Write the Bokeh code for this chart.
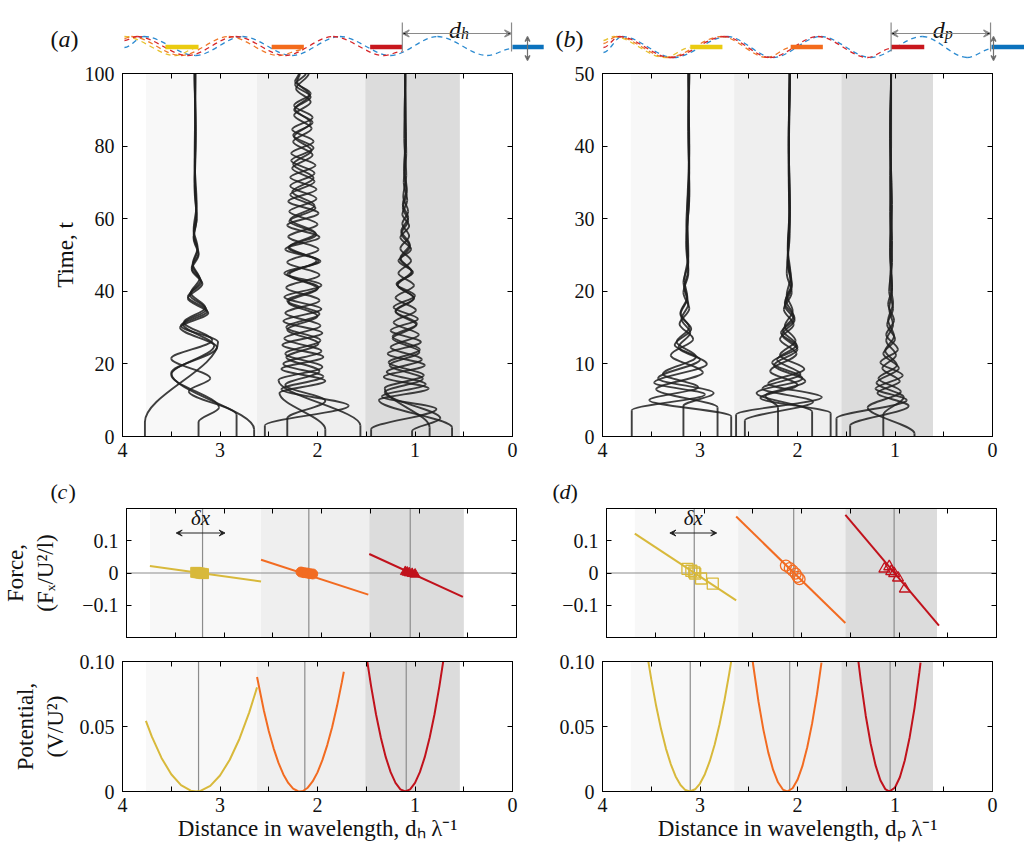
from bokeh.plotting import figure
from bokeh.layouts import column, row
from bokeh.models import (Range1d, LinearAxis, FixedTicker, Label, Arrow, VeeHead,
                          ColumnDataSource, CustomJSTickFormatter)
from bokeh.embed import file_html
from bokeh.resources import INLINE

# ---------------------------------------------------------------- data
X_TICKS = [4, 3, 2, 1, 0]
X_MINOR_TICKS = [3.5, 2.5, 1.5, 0.5]
T_TICKS_A = [0, 20, 40, 60, 80, 100]
T_TICKS_B = [0, 10, 20, 30, 40, 50]
F_TICKS = [-0.1, 0, 0.1]
V_TICKS = [0, 0.05, 0.10]

BANDS_A_FROM = [3.76, 2.62, 1.51]
BANDS_A_TO = [2.62, 1.51, 0.54]
BANDS_B_FROM = [3.71, 2.65, 1.55]
BANDS_B_TO = [2.65, 1.55, 0.61]

EQ_A = [3.22, 2.13, 1.09]
EQ_B = [3.10, 2.08, 1.05]

# trajectories (a): turning points (distance, time)
A1_1 = [(3.77, 0), (3.77, 4), (3.02, 26), (3.40, 30.5), (3.13, 34.5), (3.33, 38.5), (3.19, 42.5), (3.29, 46.5), (3.22, 50.5), (3.27, 55), (3.24, 60), (3.26, 68), (3.25, 80), (3.26, 100)]
A1_2 = [(3.22, 0), (3.22, 4), (3.01, 8), (3.50, 17), (3.06, 25), (3.38, 31), (3.14, 35), (3.31, 39), (3.20, 43), (3.28, 47), (3.23, 51.5), (3.27, 56), (3.24, 62), (3.26, 72), (3.25, 86), (3.26, 100)]
A1_3 = [(2.83, 0), (2.83, 6), (3.32, 12.5), (3.10, 16), (3.50, 21.5), (3.08, 26.5), (3.37, 31.5), (3.15, 35.5), (3.30, 39.5), (3.21, 43.5), (3.28, 47.5), (3.23, 52), (3.27, 57), (3.24, 64), (3.26, 76), (3.25, 100)]
A1_4 = [(2.65, 0), (2.65, 2), (3.50, 17.5), (3.03, 24.5), (3.41, 30), (3.12, 34), (3.33, 38), (3.18, 42), (3.29, 46), (3.22, 50), (3.27, 54.5), (3.24, 60), (3.26, 70), (3.25, 84), (3.26, 100)]

A2_1 = [(2.54, 0), (2.54, 3), (1.68, 8.5), (2.37, 13), (1.94, 16.5), (2.35, 20), (1.96, 23.5), (2.34, 27), (1.97, 30.5), (2.33, 34), (1.98, 37.5), (2.32, 41), (1.98, 44.5), (2.31, 48), (1.99, 51.5), (2.30, 55), (2.00, 58.5), (2.29, 62), (2.01, 65.5), (2.28, 69), (2.03, 72.5), (2.27, 76), (2.04, 79.5), (2.25, 83), (2.05, 86.5), (2.24, 90), (2.07, 93.5), (2.23, 97), (2.12, 100)]
A2_2 = [(2.31, 0), (2.31, 5), (1.92, 9.8), (2.33, 14.2), (1.98, 18.0), (2.32, 21.8), (1.99, 25.6), (2.31, 29.4), (2.00, 33.2), (2.30, 37.0), (2.00, 40.8), (2.29, 44.6), (2.01, 48.4), (2.29, 52.2), (2.02, 56.0), (2.28, 59.8), (2.03, 63.6), (2.26, 67.4), (2.04, 71.2), (2.25, 75.0), (2.06, 78.8), (2.24, 82.6), (2.07, 86.4), (2.23, 90.2), (2.08, 94.0), (2.21, 97.8), (2.18, 100)]
A2_3 = [(1.92, 0), (1.92, 2), (2.39, 12.0), (1.92, 15.3), (2.37, 18.6), (1.94, 21.9), (2.36, 25.2), (1.95, 28.5), (2.35, 31.8), (1.96, 35.1), (2.34, 38.4), (1.96, 41.7), (2.34, 45.0), (1.97, 48.3), (2.33, 51.6), (1.98, 54.9), (2.31, 58.2), (1.99, 61.5), (2.30, 64.8), (2.01, 68.1), (2.28, 71.4), (2.02, 74.7), (2.27, 78.0), (2.04, 81.3), (2.26, 84.6), (2.05, 87.9), (2.24, 91.2), (2.07, 94.5), (2.23, 97.8), (2.19, 100)]
A2_4 = [(1.56, 0), (1.56, 3), (2.40, 15.5), (1.95, 19.15), (2.33, 22.8), (1.97, 26.45), (2.32, 30.1), (1.98, 33.75), (2.31, 37.4), (1.99, 41.05), (2.31, 44.7), (1.99, 48.35), (2.30, 52.0), (2.01, 55.65), (2.29, 59.3), (2.02, 62.95), (2.28, 66.6), (2.03, 70.25), (2.26, 73.9), (2.05, 77.55), (2.25, 81.2), (2.06, 84.85), (2.24, 88.5), (2.07, 92.15), (2.22, 95.8), (2.09, 100)]

A3_1 = [(1.45, 0), (1.45, 2), (0.78, 7.6), (1.34, 11), (0.89, 14.4), (1.29, 17.8), (0.93, 21.2), (1.25, 24.6), (0.96, 28), (1.22, 31.4), (0.99, 34.8), (1.20, 38.2), (1.01, 41.6), (1.17, 45), (1.04, 48.4), (1.15, 51.8), (1.06, 55.2), (1.13, 58.6), (1.07, 62), (1.12, 66), (1.09, 72), (1.11, 82), (1.10, 100)]
A3_2 = [(1.03, 0), (1.03, 1.5), (0.74, 5.0), (1.31, 12.2), (0.92, 15.9), (1.26, 19.6), (0.955, 23.3), (1.23, 27.0), (0.985, 30.7), (1.20, 34.4), (1.01, 38.1), (1.18, 41.8), (1.035, 45.5), (1.15, 49.2), (1.055, 52.9), (1.14, 56.6), (1.07, 60.3), (1.125, 64), (1.085, 68), (1.11, 74), (1.095, 84), (1.10, 100)]
A3_3 = [(0.62, 0), (0.62, 2.5), (1.37, 10.0), (0.86, 13.2), (1.32, 16.4), (0.90, 19.6), (1.28, 22.8), (0.94, 26.0), (1.25, 29.2), (0.97, 32.4), (1.22, 35.6), (1.00, 38.8), (1.19, 42.0), (1.02, 45.2), (1.17, 48.4), (1.04, 51.6), (1.15, 54.8), (1.06, 58.0), (1.13, 61.2), (1.08, 65), (1.115, 70), (1.09, 78), (1.105, 90), (1.10, 100)]
A3_4 = [(0.85, 0), (0.85, 2.5), (1.31, 13.3), (0.91, 16.85), (1.27, 20.4), (0.95, 23.95), (1.23, 27.5), (0.98, 31.05), (1.20, 34.6), (1.01, 38.15), (1.18, 41.7), (1.03, 45.25), (1.15, 48.8), (1.05, 52.35), (1.14, 55.9), (1.07, 59.45), (1.125, 63), (1.085, 67), (1.11, 73), (1.095, 82), (1.10, 100)]

# trajectories (b)
B1_1 = [(3.70, 0), (3.70, 3.6), (2.95, 5.8), (3.47, 7.4), (2.93, 10.0), (3.22, 12.3), (3.10, 14.3), (3.19, 16.2), (3.12, 18.2), (3.16, 20.5), (3.12, 23), (3.14, 27), (3.11, 33), (3.12, 42), (3.11, 50)]
B1_2 = [(2.68, 0), (2.68, 2.8), (3.52, 5.0), (3.02, 6.8), (3.38, 8.6), (3.04, 11.0), (3.24, 13.0), (3.11, 15.0), (3.20, 17.0), (3.13, 19.2), (3.16, 21.5), (3.12, 25), (3.13, 31), (3.11, 40), (3.12, 50)]
B1_3 = [(3.17, 0), (3.17, 4.2), (2.86, 6.0), (3.43, 8.0), (3.00, 10.6), (3.26, 12.6), (3.09, 14.8), (3.20, 16.8), (3.13, 19), (3.17, 21.2), (3.12, 24), (3.14, 29), (3.11, 37), (3.12, 50)]
B1_4 = [(2.82, 0), (2.82, 4.0), (3.45, 6.5), (2.97, 8.8), (3.30, 11.2), (3.07, 13.4), (3.21, 15.5), (3.11, 17.6), (3.17, 19.8), (3.12, 22.5), (3.14, 26), (3.11, 34), (3.12, 44), (3.11, 50)]

B2_1 = [(2.63, 0), (2.63, 3.0), (1.75, 5.4), (2.30, 7.3), (1.93, 9.3), (2.18, 11.2), (2.02, 13.2), (2.13, 15.2), (2.05, 17.3), (2.11, 19.5), (2.07, 22), (2.10, 26), (2.08, 32), (2.09, 41), (2.08, 50)]
B2_2 = [(2.54, 0), (2.54, 2.2), (1.84, 4.8), (2.36, 6.6), (1.97, 8.6), (2.21, 10.6), (2.01, 12.6), (2.15, 14.6), (2.04, 16.6), (2.12, 18.8), (2.06, 21), (2.10, 25), (2.08, 31), (2.09, 40), (2.08, 50)]
B2_3 = [(2.20, 0), (2.20, 4.0), (2.33, 5.6), (1.92, 7.6), (2.24, 9.8), (2.00, 12), (2.16, 14), (2.03, 16), (2.13, 18), (2.06, 20.5), (2.10, 24), (2.08, 30), (2.09, 38), (2.08, 50)]
B2_4 = [(1.85, 0), (1.85, 3.4), (2.42, 6.0), (1.95, 8.0), (2.26, 10.2), (2.00, 12.3), (2.17, 14.3), (2.03, 16.3), (2.13, 18.4), (2.06, 20.8), (2.10, 24), (2.08, 31), (2.09, 42), (2.08, 50)]
B2_5 = [(1.66, 0), (1.66, 3.2), (2.38, 5.3), (2.00, 7.1), (2.28, 9.0), (2.01, 11.4), (2.18, 13.4), (2.04, 15.4), (2.14, 17.5), (2.06, 19.8), (2.11, 22.5), (2.08, 28), (2.09, 36), (2.08, 50)]

B3_1 = [(1.60, 0), (1.60, 2.5), (0.88, 5.0), (1.20, 6.6), (0.92, 8.4), (1.15, 10.2), (0.97, 12.0), (1.09, 14.0), (1.01, 16.0), (1.07, 18.2), (1.03, 20.5), (1.05, 25), (1.03, 32), (1.05, 41), (1.04, 50)]
B3_2 = [(1.46, 0), (1.46, 1.5), (0.86, 4.2), (1.18, 6.0), (0.95, 7.6), (1.13, 9.4), (0.99, 11.2), (1.09, 13.2), (1.02, 15.4), (1.06, 17.6), (1.03, 20), (1.05, 26), (1.04, 35), (1.05, 44), (1.04, 50)]
B3_3 = [(1.12, 0), (1.12, 3.0), (0.91, 5.4), (1.19, 7.4), (0.96, 9.4), (1.12, 11.4), (1.00, 13.4), (1.08, 15.4), (1.02, 17.6), (1.06, 20), (1.03, 24), (1.05, 31), (1.04, 40), (1.04, 50)]
B3_4 = [(0.80, 0), (0.80, 0.4), (1.28, 4.0), (0.94, 6.2), (1.17, 8.0), (0.98, 9.8), (1.10, 11.8), (1.01, 13.8), (1.07, 16), (1.02, 18.4), (1.05, 21), (1.03, 27), (1.05, 36), (1.04, 50)]

# force lines
FA_YEL_X = [3.76, 2.62]; FA_YEL_F = [0.022, -0.026]
FA_ORG_X = [2.62, 1.52]; FA_ORG_F = [0.041, -0.067]
FA_RED_X = [1.51, 0.55]; FA_RED_F = [0.059, -0.074]
FB_YEL_X = [3.71, 2.67]; FB_YEL_F = [0.122, -0.085]
FB_ORG_X = [2.67, 1.55]; FB_ORG_F = [0.175, -0.155]
FB_RED_X = [1.55, 0.59]; FB_RED_F = [0.180, -0.163]

# force samples
SQ_A_X = [3.29, 3.27, 3.25, 3.23, 3.21]; SQ_A_F = [0.002, 0.001, 0.0, -0.001, -0.002]
CI_A_X = [2.21, 2.18, 2.15, 2.12, 2.09]; CI_A_F = [0.003, 0.001, 0.0, -0.002, -0.003]
TR_A_X = [1.14, 1.12, 1.10, 1.07, 1.04]; TR_A_F = [0.004, 0.002, 0.0, -0.002, -0.004]
SQ_B_X = [3.17, 3.13, 3.10, 3.09, 3.03, 2.91]; SQ_B_F = [0.013, 0.007, 0.002, -0.002, -0.017, -0.033]
CI_B_X = [2.16, 2.12, 2.09, 2.06, 2.04, 2.02]; CI_B_F = [0.023, 0.015, 0.007, -0.002, -0.012, -0.019]
TR_B_X = [1.15, 1.10, 1.08, 1.05, 1.01, 0.94]; TR_B_F = [0.013, 0.020, 0.005, -0.001, -0.015, -0.049]

# potential curves
VA_YEL_X = [3.76, 3.70, 3.60, 3.50, 3.40, 3.30, 3.245, 3.20, 3.10, 3.00, 2.90, 2.80, 2.70, 2.62]
VA_YEL_V = [0.0544, 0.0424, 0.0258, 0.0133, 0.0049, 0.0006, 0.0, 0.0004, 0.0043, 0.0123, 0.0244, 0.0406, 0.0609, 0.0801]
VA_ORG_X = [2.62, 2.55, 2.50, 2.45, 2.40, 2.35, 2.30, 2.25, 2.20, 2.18, 2.15, 2.10, 2.05, 2.00, 1.95, 1.90, 1.85, 1.80, 1.75, 1.73]
VA_ORG_V = [0.0881, 0.0623, 0.0466, 0.0332, 0.0220, 0.0131, 0.0066, 0.0022, 0.0002, 0.0, 0.0004, 0.0029, 0.0077, 0.0147, 0.0241, 0.0357, 0.0495, 0.0657, 0.0841, 0.0921]
VA_RED_X = [1.49, 1.45, 1.40, 1.35, 1.30, 1.25, 1.20, 1.15, 1.10, 1.05, 1.00, 0.95, 0.90, 0.85, 0.80, 0.75, 0.71]
VA_RED_V = [0.1004, 0.0809, 0.0594, 0.0413, 0.0264, 0.0149, 0.0066, 0.0017, 0.0, 0.0017, 0.0066, 0.0149, 0.0264, 0.0413, 0.0594, 0.0809, 0.1004]
VB_YEL_X = [3.53, 3.50, 3.45, 3.40, 3.35, 3.30, 3.25, 3.20, 3.15, 3.105, 3.05, 3.00, 2.95, 2.90, 2.85, 2.80, 2.75, 2.70, 2.68]
VB_YEL_V = [0.1001, 0.0864, 0.0659, 0.0482, 0.0332, 0.0211, 0.0116, 0.0050, 0.0011, 0.0, 0.0017, 0.0061, 0.0133, 0.0233, 0.0360, 0.0515, 0.0698, 0.0909, 0.1001]
VB_ORG_X = [2.46, 2.40, 2.35, 2.30, 2.25, 2.20, 2.15, 2.106, 2.05, 2.00, 1.95, 1.90, 1.85, 1.80, 1.754]
VB_ORG_V = [0.1002, 0.0691, 0.0476, 0.0301, 0.0166, 0.0071, 0.0015, 0.0, 0.0025, 0.0090, 0.0195, 0.0340, 0.0524, 0.0749, 0.0991]
VB_RED_X = [1.378, 1.35, 1.30, 1.25, 1.20, 1.15, 1.10, 1.056, 1.00, 0.95, 0.90, 0.85, 0.80, 0.75, 0.738]
VB_RED_V = [0.1016, 0.0847, 0.0583, 0.0369, 0.0203, 0.0087, 0.0019, 0.0, 0.0031, 0.0110, 0.0238, 0.0416, 0.0642, 0.0918, 0.0991]

# schematic waves: extremes (distance, height in px from top)
WAVE_A_BLUE = [(3.98, 47), (3.78, 36), (3.25, 55), (2.77, 36), (2.26, 55), (1.77, 36), (1.25, 55), (0.77, 36), (0.26, 55), (0.00, 48)]
WAVE_A_RED = [(3.98, 40), (3.85, 36), (3.33, 55), (2.84, 36), (2.33, 55), (1.84, 36), (1.32, 55), (1.13, 51)]
WAVE_A_ORANGE = [(3.98, 38), (3.91, 36), (3.40, 55), (2.91, 36), (2.40, 55), (2.14, 49)]
WAVE_A_YELLOW = [(3.98, 36), (3.46, 55), (3.22, 47)]
WAVE_B_BLUE = [(3.99, 52), (3.80, 36), (3.27, 57), (2.72, 36), (2.25, 57), (1.76, 36), (1.25, 57), (0.72, 36), (0.26, 57), (0.00, 48)]
WAVE_B_RED = [(3.99, 47), (3.83, 36), (3.30, 57), (2.75, 36), (2.28, 57), (1.79, 36), (1.28, 57), (1.04, 48)]
WAVE_B_ORANGE = [(3.99, 43), (3.86, 36), (3.33, 57), (2.78, 36), (2.31, 57), (2.07, 47)]
WAVE_B_YELLOW = [(3.99, 40), (3.89, 36), (3.36, 57), (3.10, 47)]
BARS_A_FROM = [3.56, 2.47, 1.46, 0.00]
BARS_A_TO = [3.22, 2.14, 1.13, -0.32]
BARS_B_FROM = [3.10, 2.07, 1.04, 0.01]
BARS_B_TO = [2.77, 1.74, 0.70, -0.33]
DIM_A = [1.13, 0.01]
DIM_B = [1.04, 0.02]

# ---------------------------------------------------------------- style
FONT = "Liberation Serif"
TICK_SIZE = "20px"
LABEL_SIZE = "23px"
GREYS = ["#f8f8f8", "#efefef", "#dcdcdc"]
YEL, ORG, RED = "#d8b93b", "#f26b21", "#c1121c"
BAR_COLS = ["#eacb10", "#f36b1c", "#c8171d", "#0b72bd"]
WAVE_COLS = {"blue": "#2b8ad0", "red": "#d6262a", "orange": "#f07a2a", "yellow": "#e6c22e"}
LINE_GREY = "#8c8c8c"
TRAJ = "#1e1e1e"
PX = 97.5            # px per wavelength
SPLIT = 550          # page x where left column ends
PAGE_W = 1024


def bez_vertical(paths):
    d = dict(x0=[], y0=[], x1=[], y1=[], cx0=[], cy0=[], cx1=[], cy1=[])
    for path in paths:
        for (xa, ya), (xb, yb) in zip(path[:-1], path[1:]):
            k = (yb - ya) / 3.0
            d["x0"].append(xa); d["y0"].append(ya); d["x1"].append(xb); d["y1"].append(yb)
            d["cx0"].append(xa); d["cy0"].append(ya + k)
            d["cx1"].append(xb); d["cy1"].append(yb - k)
    return ColumnDataSource(d)


def bez_horizontal(path):
    d = dict(x0=[], y0=[], x1=[], y1=[], cx0=[], cy0=[], cx1=[], cy1=[])
    for (xa, ya), (xb, yb) in zip(path[:-1], path[1:]):
        k = (xb - xa) / 3.0
        d["x0"].append(xa); d["y0"].append(ya); d["x1"].append(xb); d["y1"].append(yb)
        d["cx0"].append(xa + k); d["cy0"].append(ya)
        d["cx1"].append(xb - k); d["cy1"].append(yb)
    return ColumnDataSource(d)


def style_axis(ax, labels, standoff):
    ax.axis_line_color = "black"
    ax.axis_line_width = 1
    ax.major_tick_in = 5
    ax.major_tick_out = 0
    ax.minor_tick_in = 5
    ax.minor_tick_out = 0
    ax.major_tick_line_color = "black"
    ax.minor_tick_line_color = "black"
    ax.major_label_text_font = FONT
    ax.major_label_text_color = "#111111"
    ax.axis_label_text_font = FONT
    ax.axis_label_text_font_size = LABEL_SIZE
    ax.axis_label_text_font_style = "normal"
    ax.axis_label_text_color = "#111111"
    if labels:
        ax.major_label_text_font_size = TICK_SIZE
        ax.major_label_standoff = standoff
    else:
        ax.major_label_text_font_size = "0px"
        ax.major_label_standoff = 0
        ax.formatter = CustomJSTickFormatter(code="return '';")


def make_fig(fh, bl, br, bt, bb, yr, yticks, yfmt, xlabels, xlabel=None,
             ylabel=None, ylabel_standoff=5):
    p = figure(frame_width=390, frame_height=fh, x_range=Range1d(4, 0), y_range=yr,
               x_axis_type=None, y_axis_type=None, toolbar_location=None,
               output_backend="svg", min_border_left=bl, min_border_right=br,
               min_border_top=bt, min_border_bottom=bb)
    p.outline_line_color = "black"
    p.background_fill_color = "white"
    p.border_fill_color = "white"
    for loc in ("below", "above"):
        ax = LinearAxis(ticker=FixedTicker(ticks=X_TICKS, minor_ticks=X_MINOR_TICKS))
        show = (loc == "below" and xlabels)
        style_axis(ax, show, 6)
        if show:
            ax.formatter = CustomJSTickFormatter(code="return tick.toFixed(0);")
        if loc == "below" and xlabel:
            ax.axis_label = xlabel
            ax.axis_label_standoff = 1
        p.add_layout(ax, loc)
    for loc in ("left", "right"):
        ax = LinearAxis(ticker=FixedTicker(ticks=yticks))
        show = (loc == "left")
        style_axis(ax, show, 8)
        if show:
            ax.formatter = CustomJSTickFormatter(code=yfmt)
        if loc == "left" and ylabel:
            ax.axis_label = ylabel
            ax.axis_label_standoff = ylabel_standoff
        p.add_layout(ax, loc)
    return p


def panel_label(p, x, y, letter, size="24px", offs=(0, 8, 20)):
    for txt, off, style in zip(("(", letter, ")"), offs, ("normal", "italic", "normal")):
        p.add_layout(Label(x=x, y=y, x_offset=off, text=txt, text_font=FONT,
                           text_font_size=size, text_font_style=style,
                           text_baseline="middle", text_align="left", text_color="#111111"))


INT_FMT = "return tick.toFixed(0);"
F_FMT = "if (Math.abs(tick) < 1e-9) return '0'; return (tick < 0 ? '\u2212' : '') + Math.abs(tick).toFixed(1);"
V_FMT = "if (Math.abs(tick) < 1e-9) return '0'; return tick.toFixed(2);"

BL_L, BR_L = 122, SPLIT - 512
BL_R, BR_R = 602 - SPLIT, PAGE_W - 992


# ---------------------------------------------------------------- schematics
def schematic(left_page, right_page, frame_left_page, waves, bars_from, bars_to,
              dim, sub, letter, label_page_x, heave_page_x):
    w = right_page - left_page
    x0 = 4 + (frame_left_page - left_page) / PX
    x1 = 4 - (right_page - frame_left_page) / PX
    p = figure(width=w, height=61, x_range=Range1d(x0, x1), y_range=Range1d(61, 0),
               x_axis_type=None, y_axis_type=None, toolbar_location=None,
               output_backend="svg", min_border=0)
    p.outline_line_color = None
    p.background_fill_color = "white"
    p.border_fill_color = "white"
    for name, path in waves:
        p.bezier(source=bez_horizontal(path), x0="x0", y0="y0", x1="x1", y1="y1",
                 cx0="cx0", cy0="cy0", cx1="cx1", cy1="cy1",
                 line_color=WAVE_COLS[name], line_width=1.3, line_dash="5 4")
    p.hbar(y=[46.5] * 4, left=bars_from, right=bars_to, height=4.5,
           fill_color=BAR_COLS, line_color=None)
    p.segment(x0=dim, y0=[22, 22], x1=dim, y1=[51, 51], line_color="#8a8a8a", line_width=1.2)
    p.add_layout(Arrow(x_start=dim[0], y_start=33, x_end=dim[1], y_end=33,
                       line_color="#8a8a8a", line_width=1.2,
                       start=VeeHead(size=7, line_color="#8a8a8a", line_width=1.2),
                       end=VeeHead(size=7, line_color="#8a8a8a", line_width=1.2)))
    mid = (dim[0] + dim[1]) / 2
    p.text(x=[mid], y=[29], text=["d"], text_font=FONT, text_font_size="24px",
           text_font_style="italic", text_align="right", text_baseline="alphabetic",
           text_color="#111111", x_offset=4)
    p.text(x=[mid], y=[33], text=[sub], text_font=FONT, text_font_size="16px",
           text_font_style="italic", text_align="left", text_baseline="alphabetic",
           text_color="#111111", x_offset=4)
    hx = 4 - (heave_page_x - frame_left_page) / PX
    p.add_layout(Arrow(x_start=hx, y_start=36, x_end=hx, y_end=60,
                       line_color="#707070", line_width=1.2,
                       start=VeeHead(size=5, line_color="#707070", line_width=1.2),
                       end=VeeHead(size=5, line_color="#707070", line_width=1.2)))
    panel_label(p, 4 + (frame_left_page - label_page_x) / PX, 38, letter)
    return p


def label_strip(left_page, right_page, letter, label_page_x, h, y_mid):
    w = right_page - left_page
    p = figure(width=w, height=h, x_range=Range1d(left_page, right_page), y_range=Range1d(h, 0),
               x_axis_type=None, y_axis_type=None, toolbar_location=None,
               output_backend="svg", min_border=0)
    p.outline_line_color = None
    p.background_fill_color = "white"
    p.border_fill_color = "white"
    panel_label(p, label_page_x, y_mid, letter, size="22px", offs=(0, 7, 18))
    return p


sa = schematic(0, SPLIT, 122,
               [("blue", WAVE_A_BLUE), ("yellow", WAVE_A_YELLOW), ("orange", WAVE_A_ORANGE), ("red", WAVE_A_RED)],
               BARS_A_FROM, BARS_A_TO, DIM_A, "h", "a", 50, 527)
sb = schematic(SPLIT, PAGE_W, 602,
               [("blue", WAVE_B_BLUE), ("yellow", WAVE_B_YELLOW), ("orange", WAVE_B_ORANGE), ("red", WAVE_B_RED)],
               BARS_B_FROM, BARS_B_TO, DIM_B, "p", "b", 555, 993)


# ---------------------------------------------------------------- trajectories
def traj_panel(bl, br, bands_from, bands_to, ttop, tticks, paths, ylabel):
    p = make_fig(363, bl, br, 12, 36, Range1d(0, ttop), tticks, INT_FMT, True,
                 ylabel=ylabel, ylabel_standoff=4)
    p.quad(left=bands_from, right=bands_to, bottom=0, top=ttop, fill_color=GREYS, line_color=None)
    p.bezier(source=bez_vertical(paths), x0="x0", y0="y0", x1="x1", y1="y1",
             cx0="cx0", cy0="cy0", cx1="cx1", cy1="cy1", line_color=TRAJ, line_width=1.9,
             line_alpha=0.85)
    return p


pa = traj_panel(BL_L, BR_L, BANDS_A_FROM, BANDS_A_TO, 100, T_TICKS_A,
                [A1_1, A1_2, A1_3, A1_4, A2_1, A2_2, A2_3, A2_4, A3_1, A3_2, A3_3, A3_4],
                "Time, t")
pb = traj_panel(BL_R, BR_R, BANDS_B_FROM, BANDS_B_TO, 50, T_TICKS_B,
                [B1_1, B1_2, B1_3, B1_4, B2_1, B2_2, B2_3, B2_4, B2_5, B3_1, B3_2, B3_3, B3_4],
                None)


# ---------------------------------------------------------------- forces
def force_panel(bl, br, bands_from, bands_to, eq, lines, marks, filled, ylabel, dx):
    p = make_fig(129, bl, br, 2, 12, Range1d(-0.2, 0.2), F_TICKS, F_FMT, False,
                 ylabel=ylabel, ylabel_standoff=21)
    p.quad(left=bands_from, right=bands_to, bottom=-0.2, top=0.2, fill_color=GREYS, line_color=None)
    p.segment(x0=eq, y0=[-0.2] * 3, x1=eq, y1=[0.2] * 3, line_color=LINE_GREY, line_width=1.2)
    p.segment(x0=[4], y0=[0], x1=[0], y1=[0], line_color=LINE_GREY, line_width=1.0)
    for (xs, fs), col in zip(lines, (YEL, ORG, RED)):
        p.line(xs, fs, line_color=col, line_width=2)
    for (xs, fs), col, marker in zip(marks, (YEL, ORG, RED), ("square", "circle", "triangle")):
        if filled:
            p.scatter(xs, fs, marker=marker, size=10, fill_color=col, line_color=col, line_width=1)
        else:
            p.scatter(xs, fs, marker=marker, size=11, fill_color=None, line_color=col, line_width=1.3)
    p.add_layout(Arrow(x_start=dx[0], y_start=0.124, x_end=dx[1], y_end=0.124,
                       line_color="#222222", line_width=1,
                       start=VeeHead(size=6, line_color="#222222", fill_color="#222222", line_width=1),
                       end=VeeHead(size=6, line_color="#222222", fill_color="#222222", line_width=1)))
    p.add_layout(Label(x=(dx[0] + dx[1]) / 2, y=0.132, text="\u03b4x", text_font=FONT,
                       text_font_size="21px", text_font_style="italic", text_align="center",
                       text_baseline="bottom", text_color="#111111"))
    return p


STRIP_H = 34
sc = label_strip(0, SPLIT, "c", 50, STRIP_H, 19)
sd = label_strip(SPLIT, PAGE_W, "d", 552, STRIP_H, 19)
pc = force_panel(BL_L, BR_L, BANDS_A_FROM, BANDS_A_TO, EQ_A,
                 [(FA_YEL_X, FA_YEL_F), (FA_ORG_X, FA_ORG_F), (FA_RED_X, FA_RED_F)],
                 [(SQ_A_X, SQ_A_F), (CI_A_X, CI_A_F), (TR_A_X, TR_A_F)], True,
                 "Force,\n(F\u2093/U\u00b2/l)", (3.49, 2.99))
pd_ = force_panel(BL_R, BR_R, BANDS_B_FROM, BANDS_B_TO, EQ_B,
                  [(FB_YEL_X, FB_YEL_F), (FB_ORG_X, FB_ORG_F), (FB_RED_X, FB_RED_F)],
                  [(SQ_B_X, SQ_B_F), (CI_B_X, CI_B_F), (TR_B_X, TR_B_F)], False,
                  None, (3.35, 2.87))


# ---------------------------------------------------------------- potentials
def pot_panel(bl, br, bands_from, bands_to, eq, curves, ylabel, xlabel):
    p = make_fig(130, bl, br, 12, 52, Range1d(0, 0.1), V_TICKS, V_FMT, True,
                 xlabel=xlabel, ylabel=ylabel, ylabel_standoff=9)
    p.quad(left=bands_from, right=bands_to, bottom=0, top=0.1, fill_color=GREYS, line_color=None)
    p.segment(x0=eq, y0=[0] * 3, x1=eq, y1=[0.1] * 3, line_color=LINE_GREY, line_width=1.2)
    for (xs, vs), col in zip(curves, (YEL, ORG, RED)):
        p.line(xs, vs, line_color=col, line_width=2)
    return p


pe = pot_panel(BL_L, BR_L, BANDS_A_FROM, BANDS_A_TO, EQ_A,
               [(VA_YEL_X, VA_YEL_V), (VA_ORG_X, VA_ORG_V), (VA_RED_X, VA_RED_V)],
               "Potential,\n(V/U\u00b2)", "Distance in wavelength, d\u2095 \u03bb\u207b\u00b9")
pf = pot_panel(BL_R, BR_R, BANDS_B_FROM, BANDS_B_TO, EQ_B,
               [(VB_YEL_X, VB_YEL_V), (VB_ORG_X, VB_ORG_V), (VB_RED_X, VB_RED_V)],
               None, "Distance in wavelength, d\u209a \u03bb\u207b\u00b9")

layout = column(row(sa, sb), row(pa, pb), row(sc, sd), row(pc, pd_), row(pe, pf))
open("out.html", "w").write(file_html(layout, INLINE))
